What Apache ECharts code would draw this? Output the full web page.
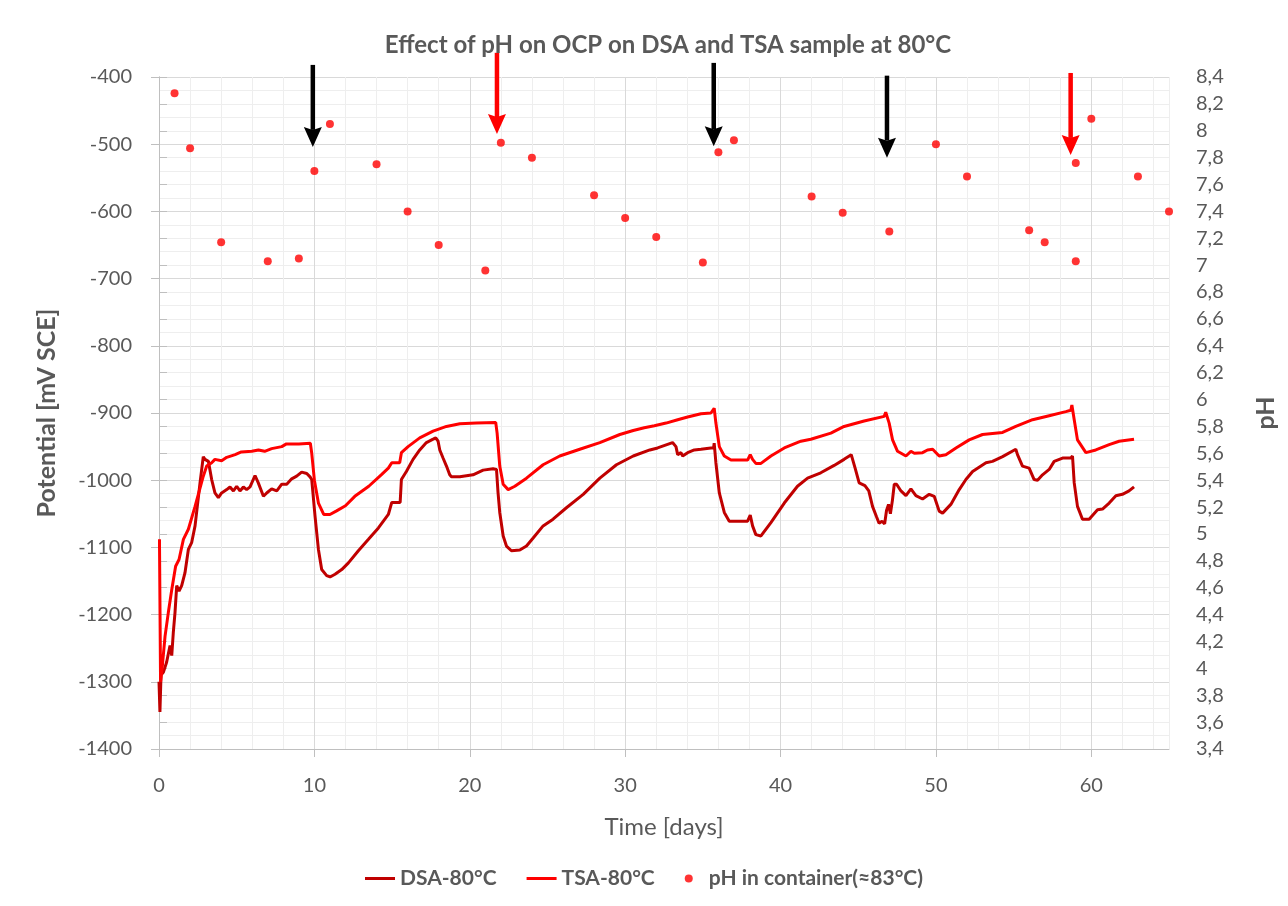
<!DOCTYPE html>
<html>
<head>
<meta charset="utf-8">
<title>Effect of pH on OCP</title>
<script src="https://cdn.jsdelivr.net/npm/echarts@6.0.0/dist/echarts.min.js"></script>
<style>
  html, body { margin: 0; padding: 0; background: #fff; }
  #chart { width: 1288px; height: 906px; }
</style>
</head>
<body>
<div id="chart"></div>
<script>
// --- data ---
// DSA-80°C potential (mV SCE) vs time (days)
const dsaDays = [0, 0.06, 0.13, 0.28, 0.49, 0.71, 0.82, 0.92, 1.03, 1.14, 1.29, 1.46, 1.67, 1.89, 2.1, 2.32, 2.64, 2.85, 2.96, 3.18, 3.39, 3.6, 3.82, 4.03, 4.36, 4.57, 4.79, 5.0, 5.21, 5.43, 5.64, 5.86, 6.18, 6.39, 6.72, 6.93, 7.25, 7.58, 7.9, 8.22, 8.54, 8.86, 9.18, 9.51, 9.72, 9.83, 10.04, 10.26, 10.47, 10.79, 11.01, 11.33, 11.76, 12.19, 12.83, 13.48, 14.12, 14.76, 14.98, 15.52, 15.6, 15.92, 16.35, 16.78, 17.21, 17.64, 17.81, 17.96, 18.07, 18.28, 18.5, 18.71, 18.82, 19.36, 20.21, 20.86, 21.5, 21.72, 21.82, 21.93, 22.15, 22.36, 22.68, 23.22, 23.65, 24.08, 24.72, 25.36, 26.22, 27.3, 28.37, 29.44, 30.52, 31.59, 32.09, 33.05, 33.27, 33.38, 33.59, 33.7, 34.02, 34.45, 34.88, 35.52, 35.69, 35.73, 35.84, 36.06, 36.38, 36.7, 37.88, 38.05, 38.2, 38.41, 38.74, 39.38, 40.24, 41.09, 41.74, 42.59, 43.45, 44.09, 44.55, 44.8, 45.06, 45.43, 45.68, 45.92, 46.17, 46.34, 46.53, 46.7, 46.82, 46.95, 47.07, 47.2, 47.32, 47.47, 47.75, 48.07, 48.39, 48.71, 49.14, 49.57, 49.89, 50.21, 50.43, 50.96, 51.5, 51.93, 52.36, 53.22, 53.64, 54.29, 55.14, 55.25, 55.57, 56.0, 56.32, 56.54, 56.86, 57.29, 57.61, 58.15, 58.68, 58.79, 58.9, 59.11, 59.43, 59.86, 60.4, 60.72, 61.15, 61.58, 62.0, 62.43, 62.75];
const dsaPotential = [-1300, -1345, -1290, -1286, -1271, -1246, -1261, -1227, -1197, -1157, -1165, -1157, -1138, -1103, -1093, -1068, -1004, -965, -969, -972, -999, -1019, -1026, -1019, -1014, -1010, -1016, -1009, -1016, -1010, -1014, -1010, -993, -1004, -1024, -1019, -1013, -1016, -1006, -1006, -998, -994, -988, -990, -995, -999, -1053, -1103, -1133, -1142, -1144, -1140, -1133, -1123, -1105, -1088, -1071, -1051, -1033, -1033, -999, -987, -969, -955, -944, -939, -937, -942, -955, -967, -979, -992, -995, -995, -992, -985, -983, -984, -1019, -1048, -1083, -1098, -1105, -1104, -1098, -1086, -1068, -1058, -1041, -1021, -997, -977, -964, -955, -952, -944, -950, -962, -959, -964, -959, -955, -954, -952, -952, -945, -974, -1019, -1048, -1061, -1061, -1052, -1068, -1081, -1083, -1063, -1034, -1009, -997, -989, -978, -969, -962, -982, -1004, -1008, -1016, -1039, -1054, -1064, -1061, -1065, -1045, -1036, -1050, -1030, -1006, -1006, -1016, -1023, -1013, -1023, -1028, -1021, -1024, -1046, -1049, -1036, -1014, -999, -987, -974, -972, -965, -954, -962, -979, -982, -999, -1000, -992, -984, -972, -967, -967, -964, -1004, -1039, -1058, -1058, -1044, -1043, -1034, -1023, -1021, -1016, -1010];

// TSA-80°C potential (mV SCE) vs time (days)
const tsaDays = [0.03, 0.06, 0.1, 0.2, 0.39, 0.6, 0.82, 1.07, 1.29, 1.57, 1.89, 2.32, 2.85, 3.07, 3.39, 3.6, 4.03, 4.36, 4.9, 5.3, 5.97, 6.4, 6.8, 7.25, 7.9, 8.2, 9.0, 9.74, 9.83, 10.0, 10.26, 10.6, 11.0, 11.4, 12.0, 12.6, 13.5, 14.3, 14.76, 14.98, 15.49, 15.6, 16.03, 16.78, 17.64, 18.5, 19.36, 20.43, 21.67, 21.76, 21.93, 22.15, 22.47, 22.9, 23.65, 24.72, 25.79, 27.08, 28.37, 29.66, 30.52, 31.23, 31.88, 32.63, 33.38, 34.02, 34.88, 35.52, 35.73, 35.84, 36.06, 36.38, 36.81, 37.88, 38.05, 38.2, 38.41, 38.74, 39.38, 40.24, 41.31, 41.95, 43.24, 44.09, 45.38, 46.67, 46.77, 46.99, 47.21, 47.53, 48.07, 48.39, 48.61, 49.14, 49.46, 49.79, 50.21, 50.64, 51.29, 52.14, 53.0, 54.29, 55.14, 56.22, 57.29, 58.36, 58.68, 58.75, 58.9, 59.11, 59.65, 60.29, 61.15, 61.79, 62.75];
const tsaPotential = [-1088, -1088, -1300, -1280, -1232, -1197, -1163, -1128, -1118, -1088, -1073, -1039, -994, -979, -974, -969, -971, -966, -962, -958, -957, -955, -957, -953, -950, -946, -946, -945, -960, -1000, -1034, -1051, -1051, -1046, -1038, -1024, -1009, -992, -982, -974, -974, -959, -950, -937, -927, -920, -916, -915, -914, -930, -979, -1006, -1014, -1009, -997, -977, -964, -954, -944, -932, -926, -922, -919, -915, -910, -906, -901, -900, -893, -915, -950, -964, -970, -970, -962, -969, -975, -975, -964, -952, -942, -939, -930, -920, -912, -905, -899, -915, -940, -957, -964, -957, -960, -959, -955, -954, -964, -962, -952, -940, -932, -929, -920, -910, -904, -898, -896, -888, -910, -940, -959, -955, -947, -942, -939];

// pH in container (≈83°C)
const phDays = [1, 2, 4, 7, 9, 10, 11, 14, 16, 18, 21, 22, 24, 28, 30, 32, 35, 36, 37, 42, 44, 47, 50, 52, 56, 57, 59, 59, 60, 63, 65];
const phValues = [8.28, 7.87, 7.17, 7.03, 7.05, 7.70, 8.05, 7.75, 7.40, 7.15, 6.96, 7.91, 7.80, 7.52, 7.35, 7.21, 7.02, 7.84, 7.93, 7.51, 7.39, 7.25, 7.90, 7.66, 7.26, 7.17, 7.03, 7.76, 8.09, 7.66, 7.40];

// event arrows: day, tail (mV), tip (mV)
const arrowDays = [9.9, 21.75, 35.7, 46.85, 58.67];
const arrowFrom = [-382, -364, -379, -398, -394];
const arrowTo = [-504, -485, -503, -520, -516];
const arrowColors = ['#000000', '#ff0000', '#000000', '#000000', '#ff0000'];

const FONT = 'Lato, "Open Sans", sans-serif';
const TXT = '#595959';
const zip = (xs, ys) => xs.map((x, i) => [x, ys[i]]);
const commaNum = (v) => String(Math.round(v * 10) / 10).replace('.', ',');
const LINE_ICON = 'path://M0,0 L30,0 L30,3 L0,3 Z';

const chart = echarts.init(document.getElementById('chart'));

// arrow = shaft + triangular head, placed through the axes
function renderArrow(params, api) {
  const tail = api.coord([api.value(0), api.value(1)]);
  const tip = api.coord([api.value(0), api.value(2)]);
  const color = arrowColors[params.dataIndex];
  const headH = 20, headW = 9;
  return {
    type: 'group',
    children: [
      {
        type: 'line',
        shape: { x1: tail[0], y1: tail[1], x2: tip[0], y2: tip[1] - headH + 3 },
        style: { stroke: color, lineWidth: 4.5 }
      },
      {
        type: 'polygon',
        shape: { points: [[tip[0] - headW, tip[1] - headH], [tip[0], tip[1] - headH + 3], [tip[0] + headW, tip[1] - headH], [tip[0], tip[1]]] },
        style: { fill: color }
      }
    ]
  };
}

const option = {
  animation: false,
  textStyle: { fontFamily: FONT },
  title: {
    text: 'Effect of pH on OCP on DSA and TSA sample at 80°C',
    left: 663,
    textAlign: 'center',
    top: 28,
    textStyle: { fontFamily: FONT, fontSize: 24, fontWeight: 'bold', color: TXT }
  },
  legend: {
    bottom: 12,
    left: 360,
    itemWidth: 30,
    itemHeight: 8,
    itemGap: 30,
    textStyle: { fontFamily: FONT, fontSize: 21, fontWeight: 'bold', color: TXT },
    data: [
      { name: 'DSA-80°C', icon: LINE_ICON },
      { name: 'TSA-80°C', icon: LINE_ICON },
      { name: 'pH in container(≈83°C)', icon: 'circle' }
    ]
  },
  grid: { left: 159, right: 119, top: 77, bottom: 157 },
  xAxis: [
    {
      // grid lines every 2 days, darker every 10
      type: 'value', min: 0, max: 65, interval: 2,
      axisLine: { show: true, lineStyle: { color: '#bfbfbf', width: 1 } },
      axisTick: { show: false },
      axisLabel: { show: false },
      splitLine: { show: true, lineStyle: { color: ['#d9d9d9', '#eeeeee', '#eeeeee', '#eeeeee', '#eeeeee'], width: 1 } }
    },
    {
      type: 'value', min: 0, max: 65, interval: 10, position: 'bottom',
      axisLine: { show: false },
      axisTick: { show: true, length: 8, lineStyle: { color: '#bfbfbf' } },
      axisLabel: { fontFamily: FONT, fontSize: 20, color: TXT, margin: 27, showMaxLabel: false },
      splitLine: { show: false },
      name: 'Time [days]', nameLocation: 'middle', nameGap: 66,
      nameTextStyle: { fontFamily: FONT, fontSize: 24, color: TXT }
    }
  ],
  yAxis: [
    {
      type: 'value', min: -1400, max: -400, interval: 100, position: 'left',
      axisLine: { show: true, lineStyle: { color: '#bfbfbf' } },
      axisTick: { show: true, length: 8, lineStyle: { color: '#bfbfbf' } },
      axisLabel: { fontFamily: FONT, fontSize: 20, color: TXT, margin: 27, formatter: (v) => String(v) },
      splitLine: { show: true, lineStyle: { color: '#d9d9d9' } },
      minorTick: { show: false, splitNumber: 5 },
      minorSplitLine: { show: true, lineStyle: { color: '#eeeeee' } },
      name: 'Potential [mV SCE]', nameLocation: 'middle', nameGap: 100, nameRotate: 90,
      nameTextStyle: { fontFamily: FONT, fontSize: 25, fontWeight: 'bold', color: TXT }
    },
    {
      type: 'value', min: 3.4, max: 8.4, interval: 0.2, position: 'right',
      axisLine: { show: true, lineStyle: { color: '#bfbfbf' } },
      axisTick: { show: true, length: 8, lineStyle: { color: '#bfbfbf' } },
      axisLabel: { fontFamily: FONT, fontSize: 20, color: TXT, margin: 27, formatter: commaNum },
      splitLine: { show: false },
      name: 'pH', nameLocation: 'middle', nameGap: 84, nameRotate: 90,
      nameTextStyle: { fontFamily: FONT, fontSize: 25, fontWeight: 'bold', color: TXT }
    }
  ],
  series: [
    {
      name: 'DSA-80°C', type: 'line', xAxisIndex: 0, yAxisIndex: 0,
      symbol: 'none', color: '#c00000',
      lineStyle: { width: 3, color: '#c00000' },
      data: zip(dsaDays, dsaPotential), z: 3
    },
    {
      name: 'TSA-80°C', type: 'line', xAxisIndex: 0, yAxisIndex: 0,
      symbol: 'none', color: '#ff0000',
      lineStyle: { width: 3, color: '#ff0000' },
      data: zip(tsaDays, tsaPotential), z: 4
    },
    {
      name: 'pH in container(≈83°C)', type: 'scatter', xAxisIndex: 0, yAxisIndex: 1,
      symbol: 'circle', symbolSize: 8, color: '#ff0000', clip: false,
      itemStyle: { color: '#ff0000' },
      data: zip(phDays, phValues), z: 5
    },
    {
      name: 'events', type: 'custom', xAxisIndex: 0, yAxisIndex: 0,
      clip: false, silent: true, z: 6,
      encode: { x: 0, y: [1, 2] },
      renderItem: renderArrow,
      data: arrowDays.map((d, i) => [d, arrowFrom[i], arrowTo[i]])
    }
  ]
};

chart.setOption(option);
</script>
</body>
</html>
